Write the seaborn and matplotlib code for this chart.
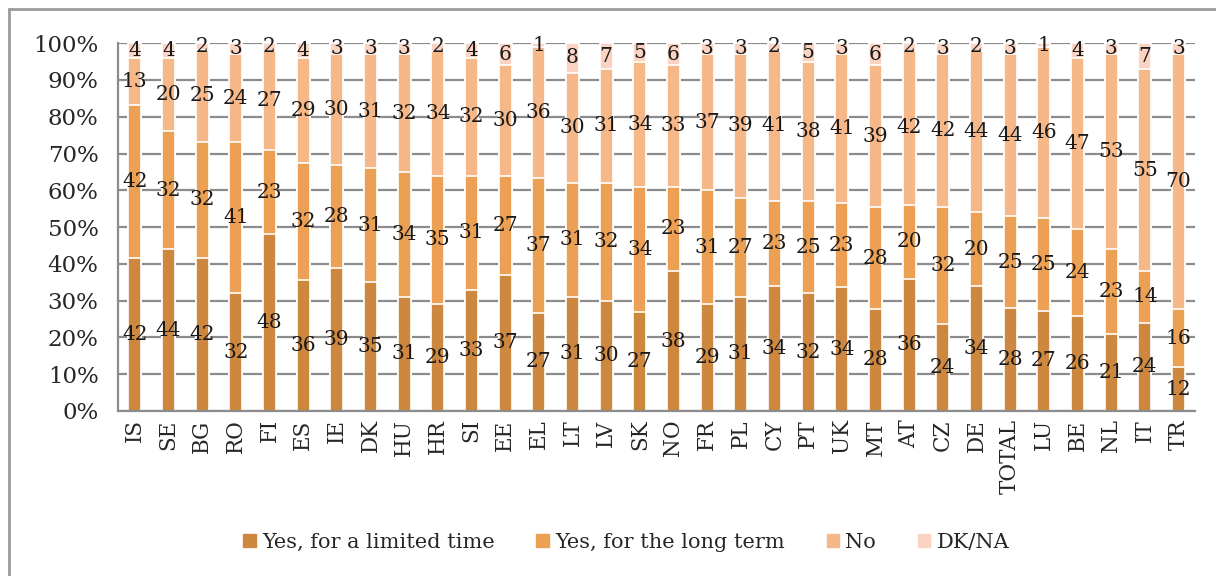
import seaborn as sns
import matplotlib.pyplot as plt
import matplotlib.patches as mpatches
import numpy as np
import pandas as pd

countries = ['IS', 'SE', 'BG', 'RO', 'FI', 'ES', 'IE', 'DK', 'HU', 'HR', 'SI', 'EE',
             'EL', 'LT', 'LV', 'SK', 'NO', 'FR', 'PL', 'CY', 'PT', 'UK', 'MT', 'AT',
             'CZ', 'DE', 'TOTAL', 'LU', 'BE', 'NL', 'IT', 'TR']
limited_time = [42, 44, 42, 32, 48, 36, 39, 35, 31, 29, 33, 37, 27, 31, 30, 27,
                38, 29, 31, 34, 32, 34, 28, 36, 24, 34, 28, 27, 26, 21, 24, 12]
long_term = [42, 32, 32, 41, 23, 32, 28, 31, 34, 35, 31, 27, 37, 31, 32, 34,
             23, 31, 27, 23, 25, 23, 28, 20, 32, 20, 25, 25, 24, 23, 14, 16]
no_answer = [13, 20, 25, 24, 27, 29, 30, 31, 32, 34, 32, 30, 36, 30, 31, 34,
             33, 37, 39, 41, 38, 41, 39, 42, 42, 44, 44, 46, 47, 53, 55, 70]
dk_na = [4, 4, 2, 3, 2, 4, 3, 3, 3, 2, 4, 6, 1, 8, 7, 5,
         6, 3, 3, 2, 5, 3, 6, 2, 3, 2, 3, 1, 4, 3, 7, 3]

series_names = ['Yes, for a limited time', 'Yes, for the long term', 'No', 'DK/NA']
colors = ['#CD873F', '#ECA054', '#F6B888', '#FAD3C2']

sns.set_style('white')
plt.rcParams['font.family'] = ['DejaVu Serif']

df = pd.DataFrame({'country': countries, series_names[0]: limited_time,
                   series_names[1]: long_term, series_names[2]: no_answer,
                   series_names[3]: dk_na})
vals = df[series_names].to_numpy(dtype=float)
# 100% stacked, like the original
pct = vals / vals.sum(axis=1, keepdims=True) * 100
cum = np.cumsum(pct, axis=1)

fig = plt.figure(figsize=(12.16, 5.76), dpi=100)
ax = fig.add_axes([0.097, 0.2865, 0.886, 0.6385])

# draw cumulative layers from top down so they stack
for k in range(3, -1, -1):
    sns.barplot(x=df['country'], y=cum[:, k], color=colors[k], width=0.38,
                saturation=1, edgecolor='white', linewidth=1.2, ax=ax, zorder=2)

# value labels in the middle of each segment
for i in range(len(countries)):
    for k in range(4):
        lo = cum[i, k - 1] if k > 0 else 0
        mid = (lo + cum[i, k]) / 2
        ax.text(i, mid, str(int(vals[i, k])), ha='center', va='center',
                fontsize=14.5, color='#1a1a1a', zorder=5)

ax.set_ylim(0, 100)
ax.set_xlim(-0.5, len(countries) - 0.5)
ax.set_yticks(np.arange(0, 101, 10))
ax.set_yticklabels([f'{v}%' for v in range(0, 101, 10)], fontsize=16.5)
ax.set_xticks(range(len(countries)))
ax.set_xticklabels(countries, rotation=90, fontsize=15.5)
ax.set_xticks(np.arange(-0.5, len(countries), 1), minor=True)
ax.tick_params(axis='x', which='major', length=0, pad=6)
ax.tick_params(axis='x', which='minor', length=6, width=1.5, color='#8c8c8c', direction='out')
ax.tick_params(axis='y', length=8, width=1.5, color='#8c8c8c', direction='out', pad=6)
ax.set_xlabel('')
ax.set_ylabel('')
ax.grid(axis='y', color='#8c8c8c', linewidth=1.6, zorder=0)
ax.set_axisbelow(True)
for s in ['top', 'right']:
    ax.spines[s].set_visible(False)
for s in ['left', 'bottom']:
    ax.spines[s].set_color('#8c8c8c')
    ax.spines[s].set_linewidth(1.6)

handles = [mpatches.Patch(color=c, label=n) for c, n in zip(colors, series_names)]
fig.legend(handles=handles, loc='center', bbox_to_anchor=(0.515, 0.058), ncol=4,
           frameon=False, fontsize=15, handlelength=0.6, handleheight=0.6,
           handletextpad=0.3, columnspacing=2.0)

# outer chart border
fig.patches.append(mpatches.Rectangle((9 / 1216, -0.05), 1.2, 1 - 9 / 576 + 0.05,
                                      transform=fig.transFigure, fill=False,
                                      edgecolor='#9a9a9a', linewidth=2))

fig.savefig('out.png', dpi=100)
plt.close(fig)
